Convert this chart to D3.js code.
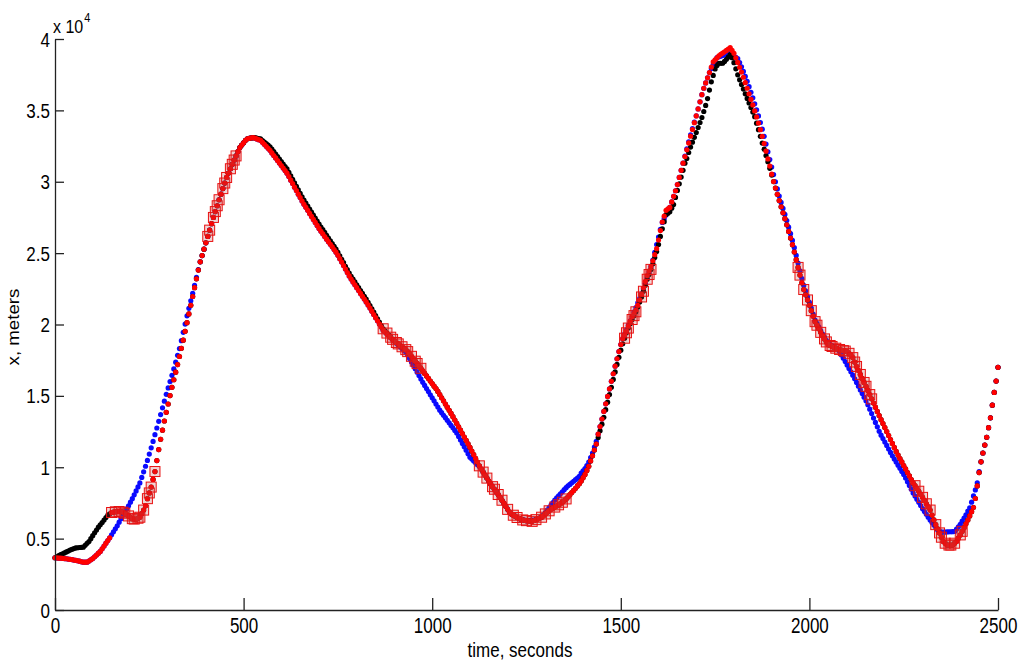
<!DOCTYPE html>
<html><head><meta charset="utf-8">
<script src="https://cdn.jsdelivr.net/npm/d3@7"></script>
<style>body{margin:0;background:#fff}svg{display:block}</style>
</head><body>
<svg id="c" width="1024" height="665"></svg>
<script>
// time sampling (seconds)
const tStart = 0, tStep = 5;
// positions in units of 10^4 meters, one value every 5 s from 0 to 2500 s
const blueX = [
0.366,0.365,0.364,0.363,0.362,0.360,0.359,0.357,0.355,0.353,0.350,0.348,0.345,0.342,0.338,0.335,0.335,0.335,0.343,0.352,
0.360,0.373,0.385,0.398,0.410,0.429,0.448,0.468,0.487,0.506,0.527,0.548,0.569,0.590,0.615,0.640,0.665,0.687,0.708,0.730,
0.755,0.780,0.807,0.834,0.862,0.890,0.929,0.968,1.007,1.048,1.092,1.136,1.181,1.228,1.275,1.322,1.369,1.416,1.463,1.511,
1.556,1.600,1.644,1.689,1.736,1.784,1.831,1.887,1.945,2.003,2.061,2.113,2.166,2.219,2.274,2.330,2.385,2.439,2.483,2.528,
2.572,2.617,2.661,2.706,2.750,2.791,2.832,2.874,2.913,2.952,2.991,3.030,3.061,3.091,3.122,3.152,3.181,3.211,3.240,3.257,
3.273,3.290,3.301,3.304,3.307,3.309,3.306,3.300,3.295,3.290,3.276,3.262,3.248,3.234,3.220,3.202,3.184,3.167,3.149,3.131,
3.113,3.096,3.078,3.060,3.036,3.011,2.987,2.962,2.938,2.913,2.889,2.865,2.842,2.821,2.800,2.778,2.757,2.736,2.715,2.694,
2.673,2.653,2.635,2.616,2.598,2.580,2.562,2.544,2.525,2.507,2.485,2.461,2.437,2.413,2.388,2.364,2.340,2.318,2.298,2.278,
2.258,2.238,2.218,2.198,2.178,2.158,2.137,2.115,2.093,2.070,2.048,2.026,2.004,1.982,1.960,1.947,1.934,1.921,1.908,1.895,
1.882,1.869,1.856,1.844,1.831,1.818,1.805,1.786,1.762,1.738,1.714,1.690,1.666,1.642,1.619,1.595,1.573,1.551,1.530,1.508,
1.486,1.465,1.443,1.422,1.400,1.382,1.364,1.347,1.329,1.311,1.293,1.276,1.258,1.240,1.216,1.191,1.167,1.143,1.119,1.094,
1.070,1.057,1.044,1.031,1.018,1.005,0.987,0.966,0.945,0.924,0.903,0.883,0.864,0.846,0.827,0.809,0.790,0.769,0.748,0.727,
0.705,0.684,0.673,0.665,0.657,0.648,0.640,0.636,0.633,0.629,0.625,0.626,0.628,0.629,0.630,0.635,0.640,0.645,0.650,0.667,
0.683,0.700,0.718,0.735,0.753,0.770,0.785,0.799,0.814,0.828,0.843,0.857,0.870,0.880,0.891,0.902,0.913,0.924,0.936,0.959,
0.975,0.990,1.012,1.036,1.068,1.100,1.141,1.182,1.232,1.285,1.338,1.391,1.444,1.496,1.549,1.602,1.655,1.708,1.760,1.810,
1.860,1.900,1.932,1.963,1.995,2.025,2.056,2.088,2.119,2.151,2.182,2.214,2.251,2.289,2.328,2.366,2.405,2.452,2.506,2.560,
2.613,2.667,2.715,2.741,2.767,2.794,2.820,2.859,2.898,2.937,2.980,3.030,3.080,3.130,3.180,3.230,3.280,3.328,3.373,3.417,
3.462,3.510,3.560,3.610,3.655,3.692,3.728,3.765,3.794,3.820,3.845,3.870,3.875,3.880,3.885,3.890,3.897,3.903,3.910,3.895,
3.880,3.871,3.862,3.835,3.805,3.773,3.738,3.704,3.666,3.627,3.588,3.546,3.504,3.461,3.415,3.368,3.318,3.264,3.210,3.156,
3.103,3.050,3.000,2.950,2.900,2.855,2.813,2.771,2.728,2.682,2.636,2.589,2.538,2.484,2.430,2.376,2.322,2.274,2.235,2.195,
2.156,2.115,2.073,2.030,2.008,1.983,1.958,1.933,1.911,1.889,1.868,1.860,1.852,1.843,1.835,1.830,1.811,1.787,1.764,1.740,
1.716,1.692,1.669,1.645,1.620,1.594,1.568,1.542,1.517,1.491,1.465,1.438,1.407,1.376,1.345,1.314,1.283,1.252,1.225,1.201,
1.177,1.153,1.128,1.104,1.080,1.057,1.036,1.014,0.993,0.971,0.950,0.924,0.898,0.872,0.846,0.820,0.798,0.776,0.754,0.732,
0.710,0.690,0.670,0.650,0.630,0.613,0.595,0.578,0.560,0.553,0.545,0.545,0.546,0.547,0.548,0.548,0.549,0.550,0.566,0.582,
0.600,0.622,0.644,0.666,0.693,0.716,0.755,0.799,0.841,0.891,0.969,1.038,1.100,1.155,1.210,1.277,1.346,1.435,1.524,1.604,
1.700];

const blackX = [
0.366,0.373,0.381,0.388,0.394,0.400,0.407,0.413,0.420,0.425,0.430,0.435,0.436,0.438,0.439,0.440,0.453,0.467,0.480,0.500,
0.521,0.541,0.560,0.580,0.597,0.613,0.630,0.648,0.665,0.674,0.683,0.686,0.688,0.690,0.690,0.690,0.685,0.678,0.670,0.659,
0.649,0.640,0.637,0.635,0.643,0.650,0.675,0.700,0.730,0.780,0.820,0.861,0.915,0.970,1.047,1.124,1.196,1.260,1.324,1.385,
1.443,1.502,1.560,1.613,1.666,1.719,1.776,1.833,1.890,1.952,2.013,2.074,2.135,2.196,2.258,2.320,2.381,2.439,2.483,2.528,
2.572,2.617,2.661,2.706,2.750,2.791,2.832,2.874,2.913,2.952,2.991,3.030,3.061,3.091,3.122,3.152,3.181,3.211,3.240,3.257,
3.273,3.290,3.301,3.304,3.307,3.309,3.309,3.306,3.303,3.300,3.289,3.278,3.267,3.256,3.245,3.228,3.211,3.193,3.176,3.159,
3.142,3.124,3.107,3.090,3.066,3.041,3.017,2.992,2.968,2.943,2.919,2.895,2.872,2.851,2.830,2.808,2.787,2.766,2.745,2.724,
2.703,2.683,2.664,2.645,2.625,2.606,2.586,2.566,2.547,2.528,2.505,2.481,2.457,2.433,2.408,2.384,2.360,2.338,2.318,2.298,
2.278,2.258,2.238,2.218,2.198,2.178,2.156,2.133,2.110,2.086,2.063,2.040,2.017,1.993,1.970,1.955,1.940,1.926,1.911,1.896,
1.884,1.874,1.864,1.854,1.844,1.834,1.824,1.810,1.793,1.777,1.760,1.743,1.727,1.710,1.693,1.675,1.657,1.640,1.622,1.604,
1.586,1.568,1.551,1.531,1.509,1.487,1.465,1.443,1.421,1.399,1.377,1.354,1.331,1.307,1.283,1.260,1.236,1.212,1.188,1.164,
1.140,1.114,1.088,1.062,1.036,1.010,0.987,0.966,0.945,0.924,0.903,0.883,0.864,0.846,0.827,0.809,0.790,0.769,0.748,0.727,
0.705,0.684,0.672,0.664,0.657,0.648,0.642,0.636,0.631,0.628,0.626,0.624,0.622,0.621,0.627,0.633,0.638,0.644,0.650,0.661,
0.673,0.684,0.695,0.705,0.713,0.721,0.729,0.737,0.745,0.755,0.766,0.778,0.792,0.808,0.823,0.838,0.853,0.869,0.884,0.904,
0.927,0.950,0.978,1.007,1.044,1.080,1.121,1.162,1.208,1.255,1.302,1.350,1.403,1.456,1.509,1.560,1.615,1.668,1.720,1.770,
1.820,1.865,1.904,1.942,1.975,2.005,2.035,2.062,2.089,2.121,2.157,2.193,2.233,2.275,2.317,2.350,2.386,2.426,2.469,2.511,
2.560,2.617,2.670,2.720,2.770,2.780,2.790,2.815,2.840,2.890,2.939,2.986,3.033,3.080,3.130,3.163,3.205,3.243,3.277,3.311,
3.345,3.380,3.415,3.450,3.492,3.535,3.583,3.642,3.700,3.745,3.790,3.815,3.830,3.830,3.830,3.843,3.858,3.874,3.890,3.869,
3.834,3.791,3.749,3.714,3.681,3.649,3.616,3.584,3.552,3.520,3.488,3.456,3.410,3.365,3.318,3.271,3.228,3.184,3.140,3.094,
3.047,3.001,2.956,2.912,2.868,2.825,2.783,2.741,2.698,2.652,2.606,2.559,2.508,2.454,2.400,2.346,2.292,2.245,2.208,2.172,
2.135,2.097,2.058,2.020,1.995,1.970,1.945,1.921,1.899,1.878,1.859,1.853,1.846,1.840,1.834,1.829,1.825,1.821,1.817,1.814,
1.810,1.798,1.787,1.768,1.737,1.706,1.678,1.650,1.622,1.594,1.567,1.538,1.509,1.479,1.450,1.421,1.391,1.362,1.333,1.306,
1.278,1.250,1.222,1.194,1.167,1.139,1.111,1.085,1.061,1.037,1.012,0.988,0.963,0.939,0.914,0.890,0.871,0.851,0.832,0.811,
0.789,0.767,0.744,0.722,0.700,0.665,0.631,0.598,0.569,0.540,0.510,0.480,0.468,0.455,0.455,0.455,0.455,0.468,0.480,0.503,
0.526,0.551,0.577,0.604,0.630,0.659,0.689,0.718,0.781,0.869,0.963,1.038,1.100,1.155,1.210,1.277,1.346,1.435,1.524,1.604,
1.700];

const redX = [
0.366,0.365,0.364,0.363,0.362,0.360,0.359,0.357,0.355,0.353,0.350,0.348,0.345,0.342,0.338,0.335,0.335,0.335,0.343,0.352,
0.360,0.373,0.385,0.398,0.410,0.429,0.448,0.468,0.487,0.506,0.683,0.686,0.688,0.690,0.690,0.690,0.685,0.678,0.670,0.659,
0.649,0.640,0.637,0.635,0.643,0.650,0.675,0.700,0.730,0.780,0.820,0.861,0.915,0.970,1.047,1.124,1.196,1.260,1.324,1.385,
1.443,1.502,1.560,1.613,1.666,1.719,1.776,1.833,1.890,1.952,2.013,2.074,2.135,2.196,2.258,2.320,2.381,2.439,2.483,2.528,
2.572,2.617,2.661,2.706,2.750,2.791,2.832,2.874,2.913,2.952,2.991,3.030,3.061,3.091,3.122,3.152,3.181,3.211,3.240,3.257,
3.273,3.290,3.301,3.304,3.307,3.309,3.306,3.300,3.295,3.290,3.276,3.262,3.248,3.234,3.220,3.202,3.184,3.167,3.149,3.131,
3.113,3.096,3.078,3.060,3.036,3.011,2.987,2.962,2.938,2.913,2.889,2.865,2.842,2.821,2.800,2.778,2.757,2.736,2.715,2.694,
2.673,2.653,2.635,2.616,2.598,2.580,2.562,2.544,2.525,2.507,2.485,2.461,2.437,2.413,2.388,2.364,2.340,2.318,2.298,2.278,
2.258,2.238,2.218,2.198,2.178,2.158,2.137,2.115,2.093,2.070,2.048,2.026,2.004,1.982,1.960,1.947,1.934,1.921,1.908,1.895,
1.884,1.874,1.864,1.854,1.844,1.834,1.824,1.810,1.793,1.777,1.760,1.743,1.727,1.710,1.693,1.675,1.657,1.640,1.622,1.604,
1.586,1.568,1.551,1.531,1.509,1.487,1.465,1.443,1.421,1.399,1.377,1.354,1.331,1.307,1.283,1.260,1.236,1.212,1.188,1.164,
1.140,1.114,1.088,1.062,1.036,1.010,0.987,0.966,0.945,0.924,0.903,0.883,0.864,0.846,0.827,0.809,0.790,0.769,0.748,0.727,
0.705,0.684,0.672,0.664,0.657,0.648,0.642,0.636,0.631,0.628,0.626,0.624,0.622,0.621,0.627,0.633,0.638,0.644,0.650,0.661,
0.673,0.684,0.695,0.705,0.713,0.721,0.729,0.737,0.745,0.755,0.766,0.778,0.792,0.808,0.823,0.838,0.853,0.869,0.884,0.904,
0.927,0.950,0.978,1.007,1.044,1.080,1.121,1.162,1.232,1.285,1.338,1.391,1.444,1.496,1.549,1.602,1.655,1.708,1.760,1.810,
1.860,1.901,1.928,1.955,1.988,2.022,2.055,2.078,2.101,2.134,2.173,2.212,2.257,2.302,2.343,2.375,2.407,2.446,2.489,2.531,
2.592,2.658,2.718,2.759,2.800,2.810,2.820,2.859,2.898,2.937,2.980,3.030,3.080,3.130,3.177,3.224,3.272,3.319,3.366,3.414,
3.461,3.510,3.560,3.610,3.655,3.692,3.728,3.765,3.803,3.840,3.854,3.868,3.882,3.893,3.902,3.910,3.920,3.930,3.940,3.920,
3.900,3.868,3.836,3.802,3.768,3.732,3.694,3.655,3.616,3.577,3.538,3.496,3.454,3.411,3.365,3.318,3.268,3.214,3.160,3.110,
3.053,3.001,2.956,2.912,2.868,2.825,2.783,2.741,2.698,2.652,2.606,2.559,2.508,2.454,2.400,2.346,2.292,2.245,2.208,2.172,
2.135,2.097,2.058,2.020,1.995,1.970,1.945,1.921,1.899,1.878,1.859,1.853,1.846,1.840,1.834,1.829,1.825,1.821,1.817,1.814,
1.810,1.798,1.787,1.768,1.737,1.706,1.678,1.650,1.622,1.594,1.567,1.538,1.509,1.479,1.450,1.421,1.391,1.362,1.333,1.306,
1.278,1.250,1.222,1.194,1.167,1.139,1.111,1.085,1.061,1.037,1.012,0.988,0.963,0.939,0.914,0.890,0.871,0.851,0.832,0.811,
0.789,0.767,0.744,0.722,0.700,0.665,0.631,0.598,0.569,0.540,0.510,0.480,0.468,0.455,0.455,0.455,0.455,0.468,0.480,0.503,
0.526,0.551,0.577,0.604,0.630,0.659,0.689,0.718,0.781,0.869,0.963,1.038,1.100,1.155,1.210,1.277,1.346,1.435,1.524,1.604,
1.700];

// times (s) at which measurements were taken (marked with squares on the black track)
const squareTimes = [
150,160,170,180,185,195,205,210,220,225,235,245,250,255,265,
405,410,420,425,430,435,445,450,455,465,470,475,480,
870,880,890,895,905,910,920,930,935,945,955,960,970,
1125,1135,1145,1160,1165,1175,1185,1200,1215,1225,1240,1250,1265,1275,1290,1300,1310,1325,1335,1345,1355,
1510,1515,1520,1530,1535,1540,1555,1560,1570,1575,1580,
1970,1975,1985,1995,2005,2015,2020,2030,2040,2045,2055,2060,2070,2080,2090,2095,2105,2115,2120,2125,2135,2145,2150,2160,2165,
2280,2290,2300,2310,2320,2335,2345,2350,2360,2370,2375,2385,2400,2405];

const xTicks = [0, 500, 1000, 1500, 2000, 2500];
const yTicks = [0, 0.5, 1, 1.5, 2, 2.5, 3, 3.5, 4];
const xTitle = "time, seconds";
const yTitle = "x, meters";
const yExponent = "4";

const FONT = "'Liberation Sans', Arial, Helvetica, sans-serif";
const svg = d3.select("#c");
const x = d3.scaleLinear().domain([0, 2500]).range([55, 998]);
const y = d3.scaleLinear().domain([0, 4]).range([610, 39]);
const tOf = i => tStart + i * tStep;

// series
function dots(arr, color, r) {
  svg.append("g").selectAll("circle").data(arr).join("circle")
    .attr("cx", (d, i) => x(tOf(i))).attr("cy", d => y(d))
    .attr("r", r).attr("fill", color);
}
dots(blueX, "#0a0aff", 2.6);
dots(blackX, "#000000", 2.6);
dots(redX, "#ff0000", 2.6);

// measurement squares
svg.append("g").selectAll("rect").data(squareTimes).join("rect")
  .attr("x", t => x(t) - 5).attr("y", t => y(blackX[(t - tStart) / tStep]) - 5)
  .attr("width", 10).attr("height", 10)
  .attr("fill", "rgba(190,60,60,0.22)").attr("stroke", "#e81010").attr("stroke-width", 1);

// axes
const gx = svg.append("g").attr("transform", "translate(0,610)")
  .call(d3.axisBottom(x).tickValues(xTicks).tickSizeInner(-12).tickSizeOuter(0).tickFormat(d3.format("d")));
const gy = svg.append("g").attr("transform", "translate(55,0)")
  .call(d3.axisLeft(y).tickValues(yTicks).tickSizeInner(-9).tickSizeOuter(0).tickFormat(d => String(d)));
[gx, gy].forEach(g => {
  g.attr("font-family", FONT).attr("font-size", 17);
  g.select(".domain").attr("stroke", "#222").attr("stroke-width", 1.3);
  g.selectAll(".tick line").attr("stroke", "#222").attr("stroke-width", 1.3);
  g.selectAll(".tick text").attr("fill", "#000");
});
gx.selectAll(".tick text").attr("y", 0).attr("dy", null)
  .attr("transform", "translate(0,23) scale(1,1.25)");
gy.selectAll(".tick text").attr("x", 0).attr("dy", null)
  .attr("transform", "translate(-5,7) scale(1,1.22)");

// exponent label
const ex = svg.append("text").attr("transform", "translate(53,33) scale(1,1.2)")
  .attr("font-family", FONT).attr("font-size", 16).attr("fill", "#000");
ex.append("tspan").text("x 10");
ex.append("tspan").attr("font-size", 11).attr("dy", -9).attr("dx", 1).text(yExponent);

// titles
svg.append("text").attr("transform", "translate(520,657) scale(1,1.2)")
  .attr("text-anchor", "middle").attr("font-family", FONT).attr("font-size", 17)
  .attr("fill", "#000").text(xTitle);
svg.append("text").attr("transform", "translate(19,327) rotate(-90) scale(1.1,1)")
  .attr("text-anchor", "middle").attr("font-family", FONT).attr("font-size", 17)
  .attr("fill", "#000").text(yTitle);
</script>
</body></html>
